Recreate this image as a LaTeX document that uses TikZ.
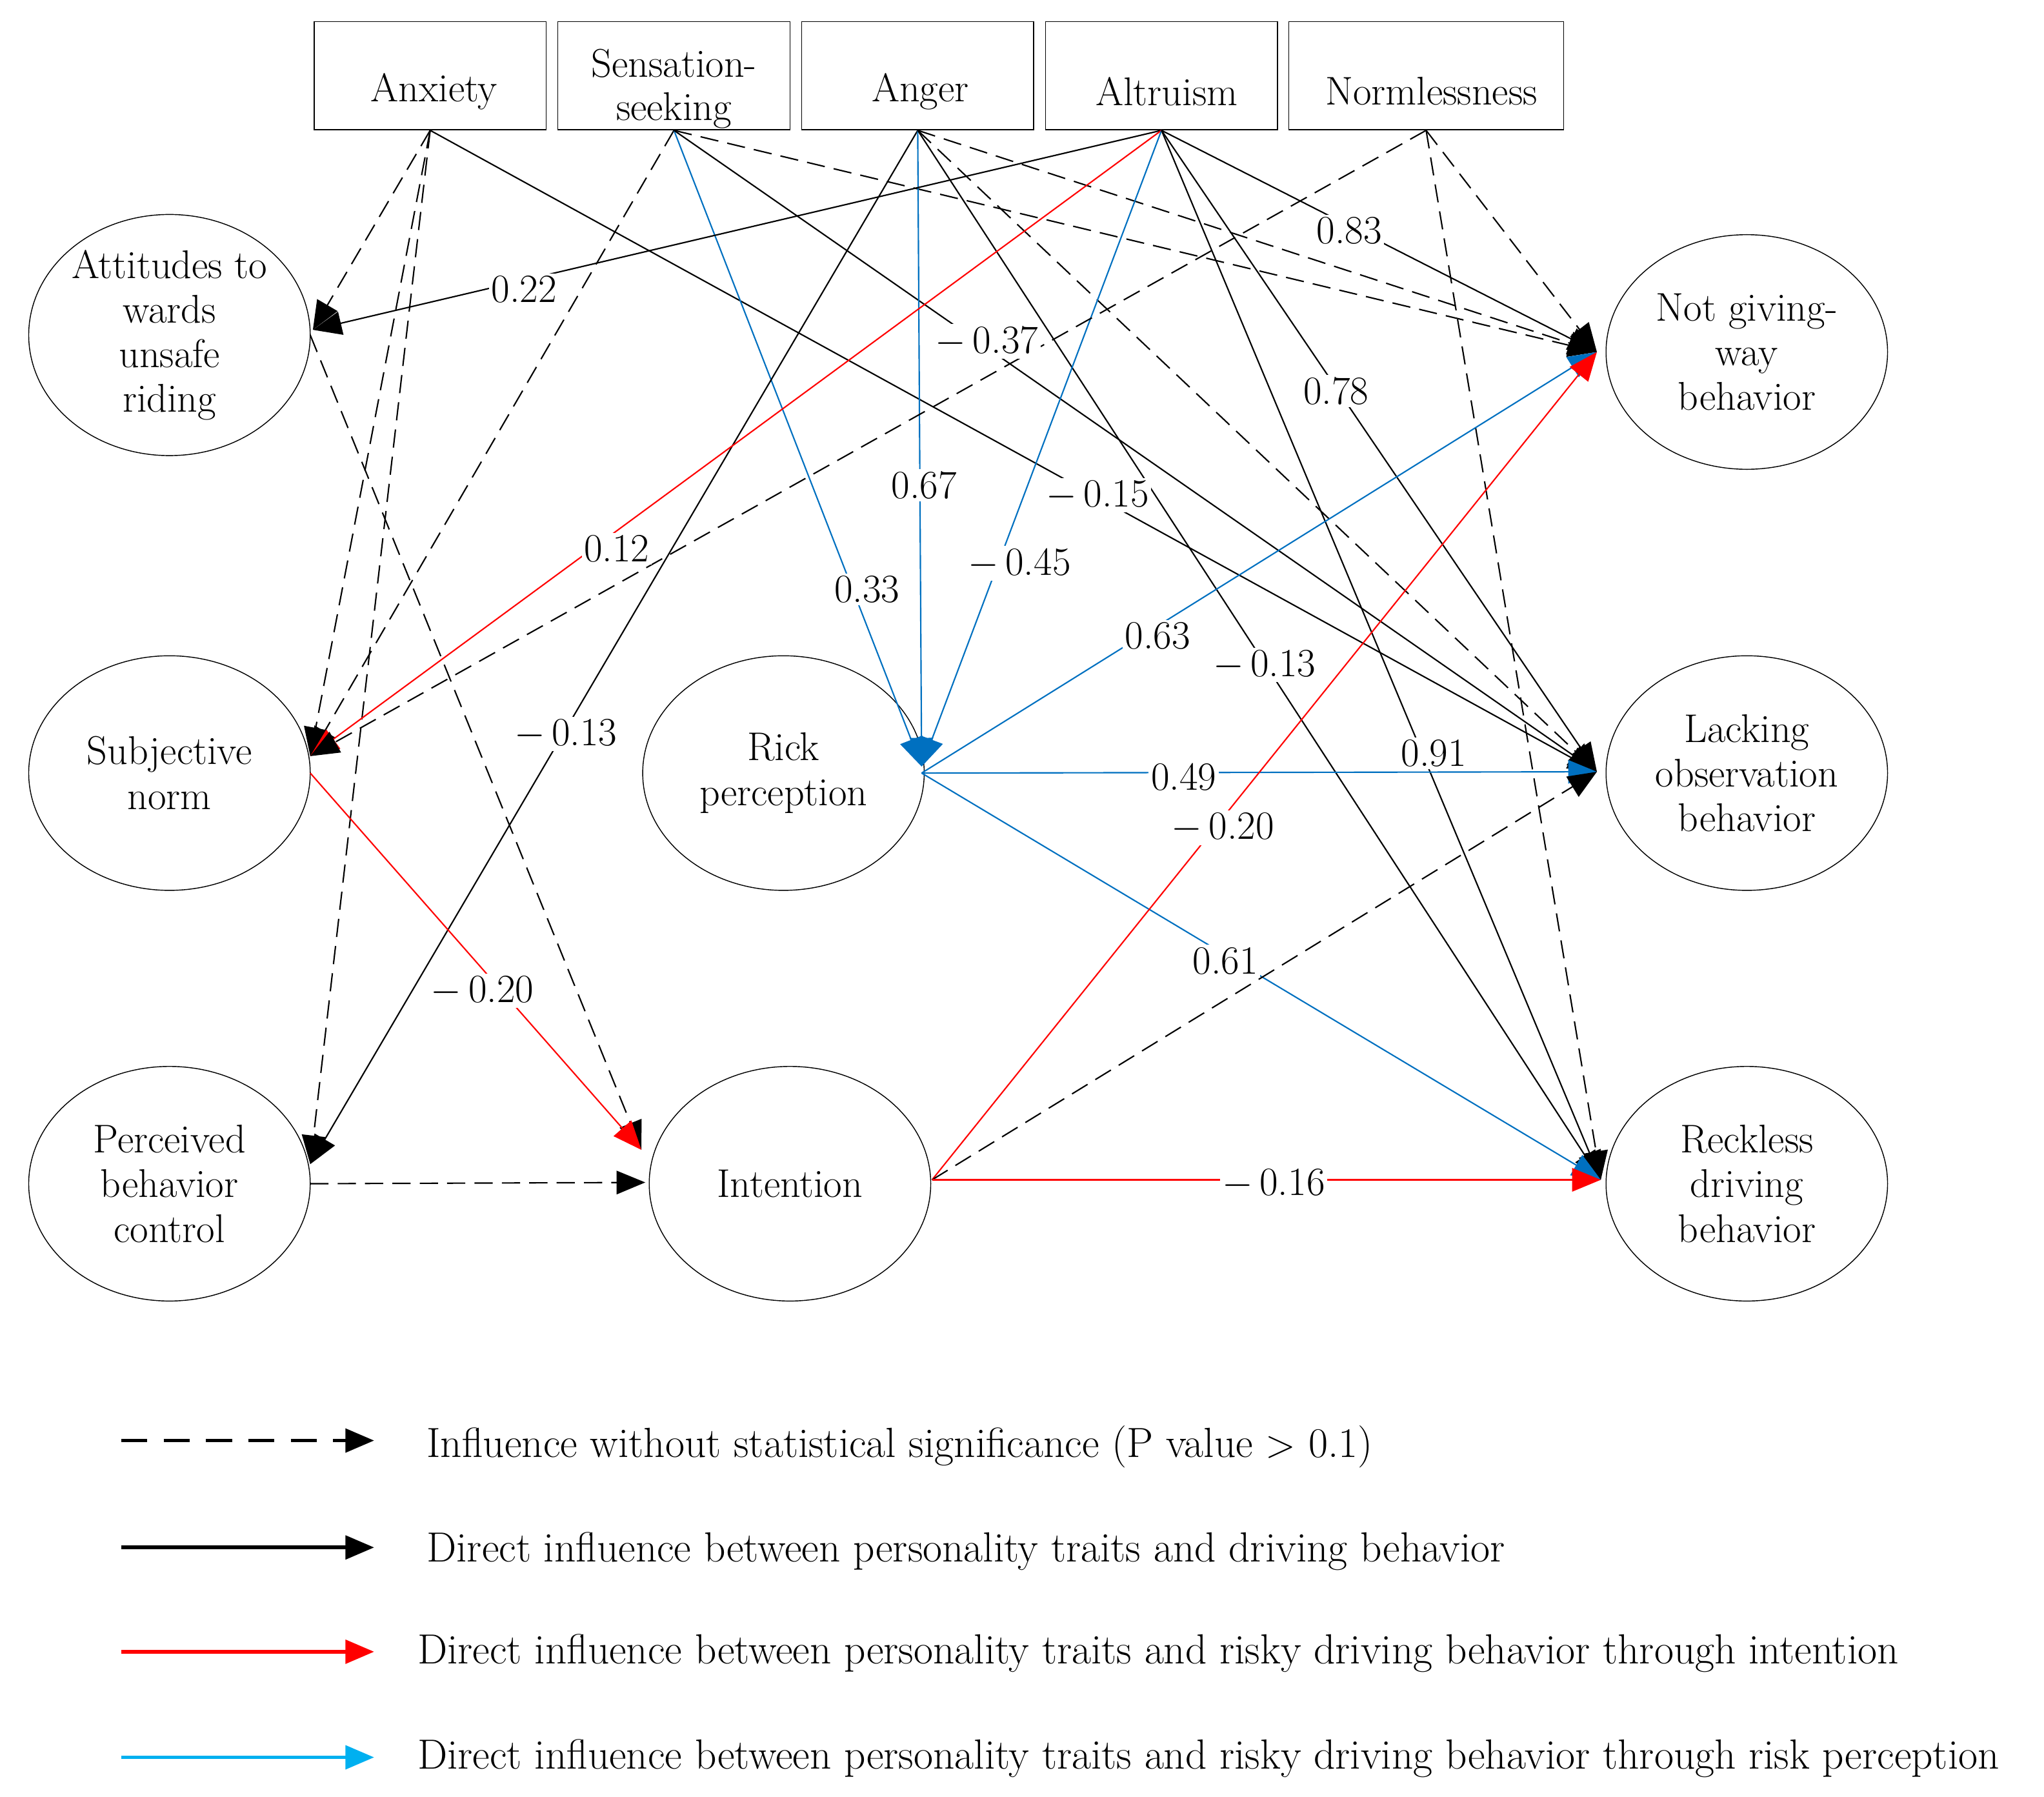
\documentclass[tikz,border=0pt]{standalone}
\usetikzlibrary{arrows.meta,shapes.geometric}
\definecolor{myblue}{RGB}{0,112,192}
\definecolor{mycyan}{RGB}{0,176,240}
\definecolor{myred}{RGB}{255,0,0}
\begin{document}
\begin{tikzpicture}[x=0.02cm,y=-0.02cm,font=\fontsize{17.5}{19.5}\selectfont,
 box/.style={draw,minimum width=3.56cm,minimum height=1.66cm,inner sep=0pt},
 btxt/.style={align=center,inner sep=0pt,font=\fontsize{17.5}{19}\selectfont},
 ell/.style={draw,ellipse,minimum width=4.32cm,minimum height=3.6cm,align=center,inner sep=0pt},
 tip/.style={-{Triangle[length=0.44cm,width=0.36cm]}},
 e/.style={tip,line width=0.6pt},
 d/.style={e,dash pattern=on 0.28cm off 0.14cm},
 b/.style={e,myblue},
 r/.style={e,myred},
 lbl/.style={fill=white,inner sep=1pt},
 legt/.style={anchor=west,inner sep=0pt,font=\fontsize{18.4}{20}\selectfont},
 leg/.style={line width=1.6pt,-{Triangle[length=0.44cm,width=0.36cm]}}]
\useasboundingbox (0,0) rectangle (1568,1378);
% boxes
\node[box] (anx) at (330,58) {};
\node[box] (sen) at (517,58) {};
\node[box] (ang) at (704,58) {};
\node[box] (alt) at (891,58) {};
\node[box,minimum width=4.22cm] (nor) at (1094,58) {};
\node[btxt] (anxT) at (333,70) {Anxiety};
\node[btxt] (senT) at (517,68) {Sensation-\\seeking};
\node[btxt] (angT) at (706,70) {Anger};
\node[btxt] (altT) at (895,70) {Altruism};
\node[btxt] (norT) at (1098,70) {Normlessness};
% ellipses
\node[ell] (att) at (130,257) {Attitudes to\\wards\\unsafe\\riding};
\node[ell] (sub) at (130,593) {Subjective\\norm};
\node[ell] (pbc) at (130,908) {Perceived\\behavior\\control};
\node[ell] (ris) at (601,593) {Rick\\perception};
\node[ell] (int) at (606,908) {Intention};
\node[ell] (ngw) at (1340,270) {Not giving-\\way\\behavior};
\node[ell] (lob) at (1340,593) {Lacking\\observation\\behavior};
\node[ell] (rdb) at (1340,908) {Reckless\\driving\\behavior};
% endpoints
\coordinate (attI) at (240,253);
\coordinate (attO) at (238,257);
\coordinate (subI) at (238,580);
\coordinate (subO) at (238,593);
\coordinate (pbcI) at (238,893);
\coordinate (pbcO) at (238,908);
\coordinate (intI) at (492,882);
\coordinate (intI2) at (495,907);
\coordinate (intO) at (715,905);
\coordinate (risI) at (707,588);
\coordinate (risO) at (707,593);
\coordinate (ngwI) at (1225,270);
\coordinate (lobI) at (1225,592);
\coordinate (rdbI) at (1228,905);
\coordinate (anxO) at (330,100);
\coordinate (senO) at (517,100);
\coordinate (angO) at (704,100);
\coordinate (altO) at (891,100);
\coordinate (norO) at (1094,100);
% anxiety
\draw[d] (anxO) -- (attI);
\draw[d] (anxO) -- (subI);
\draw[d] (anxO) -- (pbcI);
\draw[e] (anxO) -- (lobI);
% sensation
\draw[d] (senO) -- (subI);
\draw[b] (senO) -- (risI);
\draw[e] (senO) -- (lobI);
\draw[d] (senO) -- (ngwI);
% anger
\draw[e] (angO) -- (pbcI);
\draw[b] (angO) -- (risI);
\draw[e] (angO) -- (rdbI);
\draw[d] (angO) -- (lobI);
\draw[d] (angO) -- (ngwI);
% altruism
\draw[e] (altO) -- (attI);
\draw[r] (altO) -- (subI);
\draw[b] (altO) -- (risI);
\draw[e] (altO) -- (ngwI);
\draw[e] (altO) -- (lobI);
\draw[e] (altO) -- (rdbI);
% normlessness
\draw[d] (norO) -- (subI);
\draw[d] (norO) -- (ngwI);
\draw[d] (norO) -- (rdbI);
% left/middle
\draw[d] (attO) -- (intI);
\draw[r] (subO) -- (intI);
\draw[d] (pbcO) -- (intI2);
\draw[b] (risO) -- (ngwI);
\draw[b] (risO) -- (lobI);
\draw[b] (risO) -- (rdbI);
\draw[r] (intO) -- (ngwI);
\draw[d] (intO) -- (lobI);
\draw[r] (intO) -- (rdbI);
% labels
\node[lbl] at (402,222) {0.22};
\node[lbl] at (757,262) {$-$\,0.37};
\node[lbl] at (1035,177) {0.83};
\node[lbl] at (1025,300) {0.78};
\node[lbl] at (842,380) {$-$\,0.15};
\node[lbl] at (709,372) {0.67};
\node[lbl] at (473,421) {0.12};
\node[lbl] at (665,452) {0.33};
\node[lbl] at (782,432) {$-$\,0.45};
\node[lbl] at (888,488) {0.63};
\node[lbl] at (970,510) {$-$\,0.13};
\node[lbl] at (434,563) {$-$\,0.13};
\node[lbl] at (1100,578) {0.91};
\node[lbl] at (908,596) {0.49};
\node[lbl] at (938,635) {$-$\,0.20};
\node[lbl] at (940,737) {0.61};
\node[lbl] at (370,760) {$-$\,0.20};
\node[lbl] at (977,908) {$-$\,0.16};
% legend
\coordinate (l1a) at (93,1105); \coordinate (l1b) at (287,1105);
\coordinate (l2a) at (93,1187); \coordinate (l2b) at (287,1187);
\coordinate (l3a) at (93,1267); \coordinate (l3b) at (287,1267);
\coordinate (l4a) at (93,1348); \coordinate (l4b) at (287,1348);
\draw[leg,dash pattern=on 0.4cm off 0.25cm] (l1a) -- (l1b);
\draw[leg] (l2a) -- (l2b);
\draw[leg,myred] (l3a) -- (l3b);
\draw[leg,mycyan] (l4a) -- (l4b);
\node[legt] (t1) at (327,1110) {Influence without statistical significance (P value $>$ 0.1)};
\node[legt] (t2) at (327,1190) {Direct influence between personality traits and driving behavior};
\node[legt] (t3) at (320,1268) {Direct influence between personality traits and risky driving behavior through intention};
\node[legt] (t4) at (320,1349) {Direct influence between personality traits and risky driving behavior through risk perception};
\end{tikzpicture}
\end{document}
